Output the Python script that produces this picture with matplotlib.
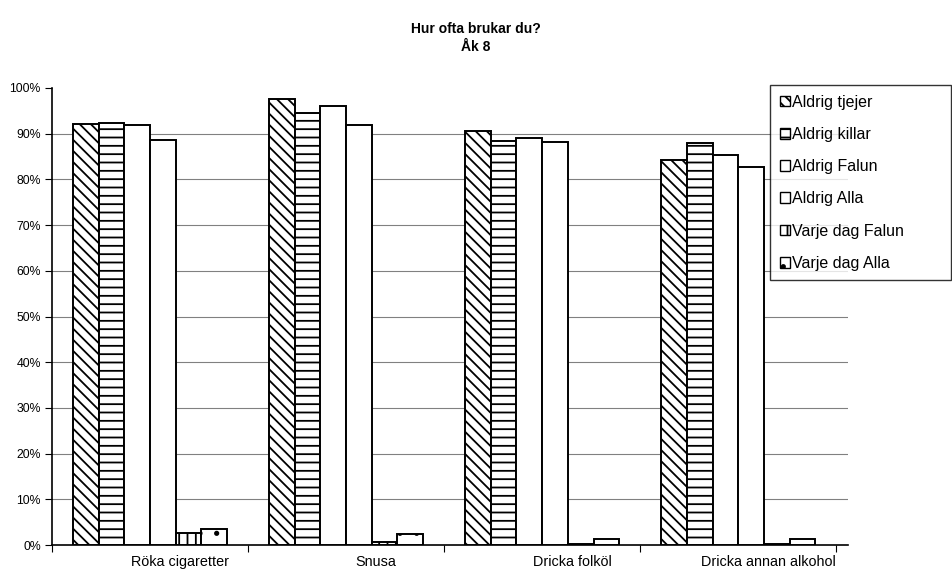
import numpy as np
import matplotlib
matplotlib.use("Agg")
import matplotlib.pyplot as plt
from matplotlib.patches import Patch
from matplotlib.transforms import ScaledTranslation
from matplotlib.ticker import PercentFormatter

plt.rcParams.update({
    "font.family": ["Liberation Sans", "DejaVu Sans"],
    "hatch.linewidth": 1.3,
    "hatch.color": "black",
})

# andel elever i procent, per fråga
categories = ["Röka cigaretter", "Snusa", "Dricka folköl", "Dricka annan alkohol"]
series_names = ["Aldrig tjejer", "Aldrig killar", "Aldrig Falun", "Aldrig Alla",
                "Varje dag Falun", "Varje dag Alla"]
aldrig_tjejer = [92.1, 97.7, 90.6, 84.2]
aldrig_killar = [92.3, 94.5, 88.5, 87.9]
aldrig_falun = [91.8, 96.1, 89.0, 85.3]
aldrig_alla = [88.6, 91.8, 88.1, 82.8]
varje_dag_falun = [2.6, 0.7, 0.3, 0.3]
varje_dag_alla = [3.6, 2.5, 1.3, 1.3]

series = [aldrig_tjejer, aldrig_killar, aldrig_falun, aldrig_alla,
          varje_dag_falun, varje_dag_alla]
hatches = ["\\\\\\", "--", "", "", "||", "."]

fig = plt.figure(figsize=(9.52, 5.79), dpi=100)
ax = fig.add_axes([52 / 952, 1 - 545 / 579, (848 - 52) / 952, (545 - 88) / 579])

x = np.arange(len(categories))
w = 0.131
for i, (vals, h) in enumerate(zip(series, hatches)):
    ax.bar(x + (i - 2.5) * w, vals, width=w, facecolor="white",
           edgecolor="black", linewidth=1.4, hatch=h, zorder=3)

ax.set_xlim(-0.5, 3.56)
ax.set_ylim(0, 100)
ax.set_yticks(np.arange(0, 101, 10))
ax.yaxis.set_major_formatter(PercentFormatter(decimals=0))
ax.tick_params(axis="y", labelsize=8.8, length=5, width=0.8, direction="out", pad=3)
for yv in range(10, 100, 10):
    ax.axhline(yv, color="#808080", linewidth=0.8, zorder=1)

# kategorigränser som tickar, etiketterna ligger lite till höger
ax.set_xticks(np.arange(-0.5, 4, 1), minor=True)
ax.tick_params(axis="x", which="minor", length=5, width=0.8, direction="out")
ax.set_xticks(x)
ax.set_xticklabels(categories, fontsize=10.4)
ax.tick_params(axis="x", which="major", length=0, pad=7)
shift = ScaledTranslation(30 / 100, 0, fig.dpi_scale_trans)
for lbl in ax.get_xticklabels():
    lbl.set_transform(lbl.get_transform() + shift)

for s in ["top", "right"]:
    ax.spines[s].set_visible(False)
for s in ["left", "bottom"]:
    ax.spines[s].set_linewidth(1.2)

fig.suptitle("Hur ofta brukar du?\nÅk 8", fontsize=10, fontweight="bold",
             x=0.5, y=1 - 22 / 579, va="top", linespacing=1.35)

handles = [Patch(facecolor="white", edgecolor="black", linewidth=1.0, hatch=h)
           for h in hatches]
leg = fig.legend(handles, series_names, loc="upper left",
                 bbox_to_anchor=(770 / 952, 1 - 85 / 579, 181 / 952, 0.0),
                 bbox_transform=fig.transFigure, mode="expand",
                 fontsize=11.5, frameon=True, fancybox=False, edgecolor="black",
                 handlelength=0.65, handleheight=0.65, handletextpad=0.15,
                 labelspacing=1.08, borderpad=0.6, borderaxespad=0)
leg.get_frame().set_linewidth(1.0)

fig.savefig("out.png", dpi=100)
